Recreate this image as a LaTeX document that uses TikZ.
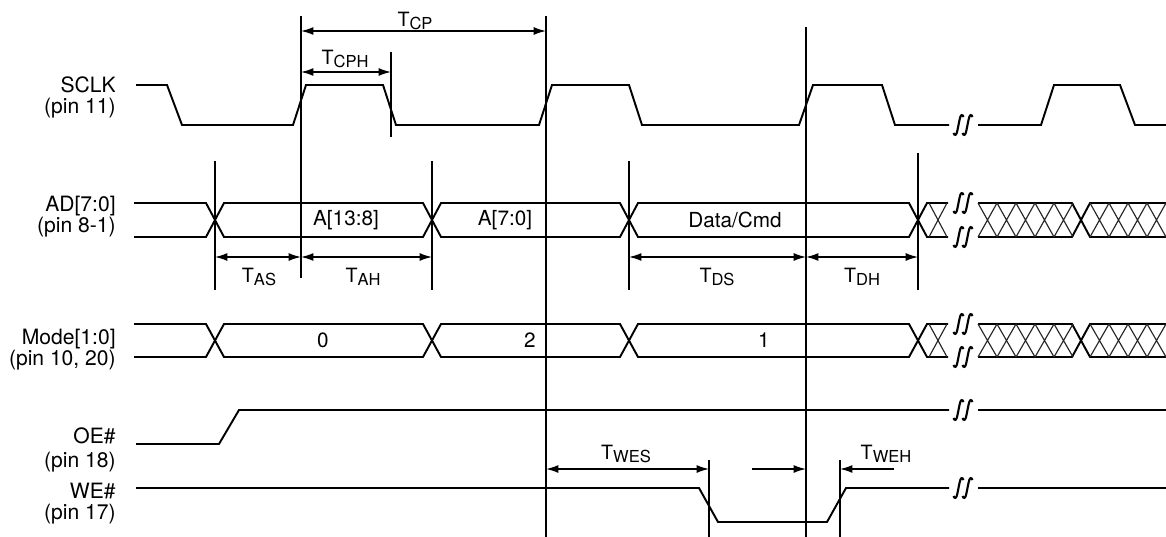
\documentclass[tikz,border=0pt]{standalone}
\usepackage{fontspec}
\setmainfont{TeX Gyre Heros}
\usetikzlibrary{arrows.meta}

\newcommand{\tsub}[1]{T\raisebox{-1.8pt}{\fontsize{9.4}{10}\selectfont #1}}

\tikzset{
	wave/.style={line width=1.1pt, line join=miter},
	guide/.style={line width=0.8pt},
	dim/.style={line width=0.8pt, {Latex[length=7pt,width=4.5pt]}-{Latex[length=7pt,width=4.5pt]}},
	into/.style={line width=0.8pt, -{Latex[length=7pt,width=4.5pt]}},
	xx/.style={line width=0.65pt, black!85},
	sig/.style={anchor=east, align=right, inner sep=0, font=\fontsize{12}{12}\selectfont},
	val/.style={inner sep=0, font=\fontsize{11.8}{12}\selectfont},
	tim/.style={inner sep=0, font=\fontsize{11.2}{12}\selectfont},
	brk/.pic={
		\foreach \d in {-4.5,4.5}
			\draw[line width=1.2pt] (\d-5,8) .. controls (\d-4,11) and (\d-2,11) .. (\d-1,5) -- (\d+1,-5) .. controls (\d+2,-11) and (\d+4,-11) .. (\d+5,-8);
	}
}

\begin{document}
\begin{tikzpicture}[x=0.02cm, y=-0.02cm]
	\useasboundingbox (0,0) rectangle (1166,537);

	\node[sig]  (sclk) at (116,97)  {SCLK\\(pin 11)};
	\node[sig]  (ad)   at (116,217) {AD[7:0]\\(pin 8-1)};
	\node[sig]  (mode) at (116,350) {Mode[1:0]\\(pin 10, 20)};
	\node[sig]  (oe)   at (116,450) {OE\#\\[2pt](pin 18)};
	\node[sig]  (we)   at (116,504) {WE\#\\(pin 17)};

	\draw[wave] (136,85) -- (167,85) -- (182,125) -- (293,125) -- (306,85) -- (383,85) -- (396,125)
		-- (539,125) -- (552,85) -- (629,85) -- (642,125) -- (799,125) -- (813,85) -- (882,85)
		-- (895,125) -- (949,125);
	\draw[wave] (978,125) -- (1041,125) -- (1054,85) -- (1120,85) -- (1135,125) -- (1166,125);

	\draw[wave] (134,203) -- (206,203) -- (224,237) -- (423,237) -- (441,203) -- (620,203) -- (638,237) -- (909,237) -- (927,203) -- (948,203);
	\draw[wave] (134,237) -- (206,237) -- (224,203) -- (423,203) -- (441,237) -- (620,237) -- (638,203) -- (909,203) -- (927,237) -- (948,237);
	\draw[wave] (978,203) -- (1072,203) -- (1090,237) -- (1166,237);
	\draw[wave] (978,237) -- (1072,237) -- (1090,203) -- (1166,203);

	\draw[wave] (134,324) -- (206,324) -- (224,357) -- (423,357) -- (441,324) -- (620,324) -- (638,357) -- (909,357) -- (927,324) -- (948,324);
	\draw[wave] (134,357) -- (206,357) -- (224,324) -- (423,324) -- (441,357) -- (620,357) -- (638,324) -- (909,324) -- (927,357) -- (948,357);
	\draw[wave] (978,324) -- (1072,324) -- (1090,357) -- (1166,357);
	\draw[wave] (978,357) -- (1072,357) -- (1090,324) -- (1166,324);

	\foreach \a/\b in {203/237, 324/357} {
		\draw[xx] (929,\a) -- (947,\b) (929,\b) -- (947,\a);
		\foreach \x in {978,997,1016,1035,1054}
			\draw[xx] (\x,\a) -- (\x+19,\b) (\x,\b) -- (\x+19,\a);
		\foreach \x in {1090,1109,1128,1147}
			\draw[xx] (\x,\a) -- (\x+19,\b) (\x,\b) -- (\x+19,\a);
	}

	\draw[wave] (136,444) -- (219,444) -- (239,410) -- (949,410);
	\draw[wave] (978,410) -- (1166,410);
	\draw[wave] (136,488) -- (699,488) -- (718,522) -- (827,522) -- (846,488) -- (949,488);
	\draw[wave] (978,488) -- (1166,488);

	\pic at (963,125) {brk};
	\pic at (963,203) {brk};
	\pic at (963,237) {brk};
	\pic at (963,324) {brk};
	\pic at (963,357) {brk};
	\pic at (963,410) {brk};
	\pic at (963,488) {brk};

	\node[val] (a13) at (346,220) {A[13:8]};
	\node[val] (a7)  at (505,220) {A[7:0]};
	\node[val] (dc)  at (735,220) {Data/Cmd};
	\node[val] (m0)  at (323,340) {0};
	\node[val] (m2)  at (530,340) {2};
	\node[val] (m1)  at (764,340) {1};

	\coordinate (g1t) at (301,16);   \coordinate (g1b) at (301,278);
	\coordinate (g2t) at (391,52);   \coordinate (g2b) at (391,137);
	\coordinate (g3t) at (546,16);   \coordinate (g3b) at (546,537);
	\coordinate (g4t) at (806,27);   \coordinate (g4b) at (806,537);
	\coordinate (g5t) at (215,161);  \coordinate (g5b) at (215,290);
	\coordinate (g6t) at (432,161);  \coordinate (g6b) at (432,290);
	\coordinate (g7t) at (629,161);  \coordinate (g7b) at (629,290);
	\coordinate (g8t) at (918,153);  \coordinate (g8b) at (918,290);
	\coordinate (g9t) at (709,460);  \coordinate (g9b) at (709,537);
	\coordinate (g10t) at (840,460); \coordinate (g10b) at (840,537);

	\foreach \g in {1,...,10}
		\path[guide] (g\g t) edge (g\g b);

	\path[dim] (301,31) edge (546,31);
	\path[dim] (301,72) edge (391,72);
	\path[dim] (215,257) edge (301,257);
	\path[dim] (301,257) edge (432,257);
	\path[dim] (629,257) edge (806,257);
	\path[dim] (806,257) edge (918,257);
	\path[dim] (546,469) edge (709,469);
	\path[into] (752,469) edge (806,469);
	\path[into] (894,469) edge (840,469);

	\node[tim] (tcp)  at (415,21)  {\tsub{CP}};
	\node[tim] (tcph) at (345,59)  {\tsub{CPH}};
	\node[tim] (tas)  at (259,277) {\tsub{AS}};
	\node[tim] (tah)  at (363,277) {\tsub{AH}};
	\node[tim] (tds)  at (717,277) {\tsub{DS}};
	\node[tim] (tdh)  at (862,277) {\tsub{DH}};
	\node[tim] (twes) at (626,454) {\tsub{WES}};
	\node[tim] (tweh) at (886,454) {\tsub{WEH}};
\end{tikzpicture}
\end{document}
